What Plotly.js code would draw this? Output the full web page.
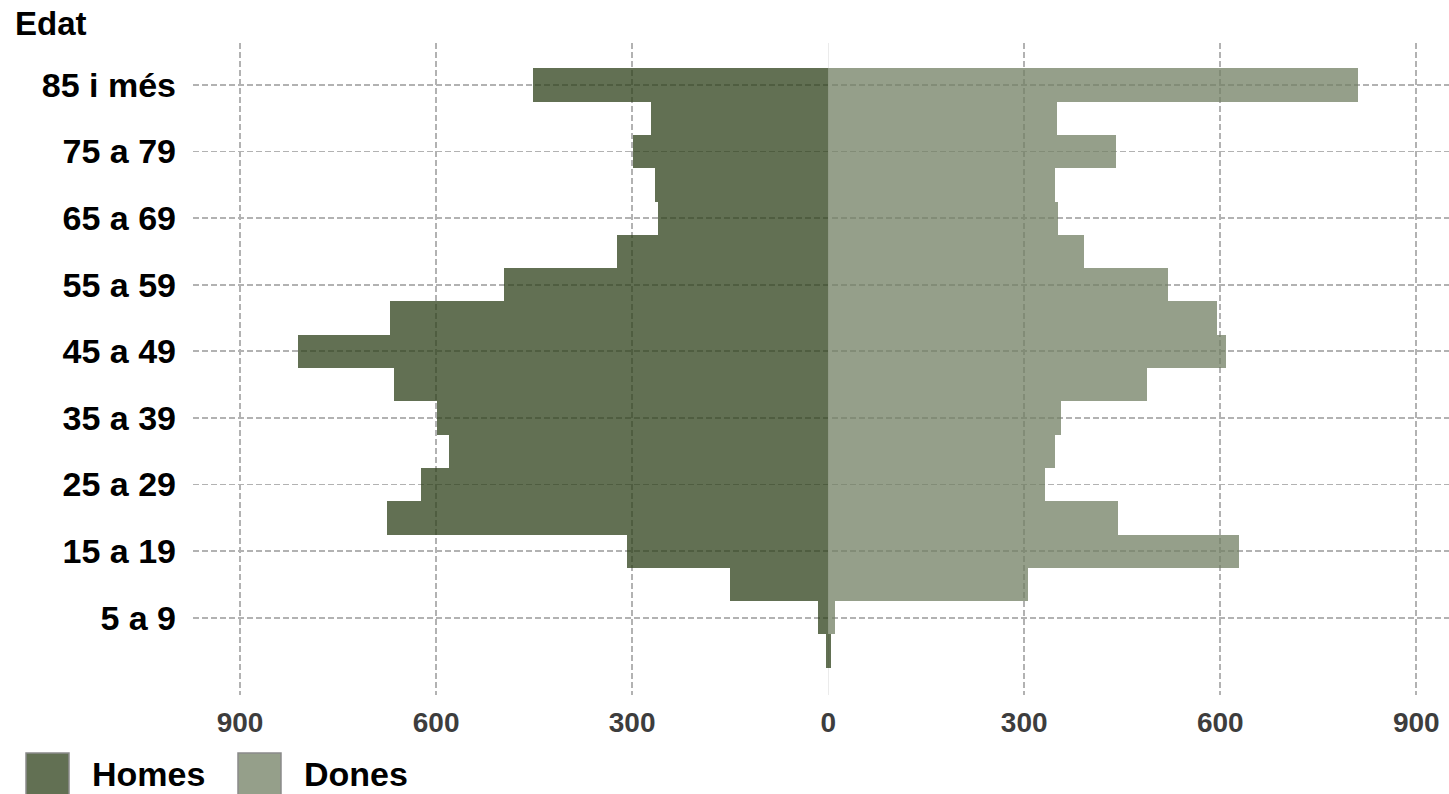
<!DOCTYPE html>
<html>
<head>
<meta charset="utf-8">
<script src="https://cdn.plot.ly/plotly-3.0.1.min.js"></script>
<style>html,body{margin:0;padding:0;background:#fff;}#chart{width:1449px;height:794px;}</style>
</head>
<body>
<div id="chart"></div>
<script>
// Age groups (bottom to top)
const ageGroups = ["0 a 4","5 a 9","10 a 14","15 a 19","20 a 24","25 a 29","30 a 34","35 a 39","40 a 44","45 a 49","50 a 54","55 a 59","60 a 64","65 a 69","70 a 74","75 a 79","80 a 84","85 i més"];
// Men (Homes) and Women (Dones) counts
const homes = [4, 15, 151, 308, 675, 623, 580, 598, 664, 812, 671, 496, 323, 260, 265, 299, 271, 451];
const dones = [4, 11, 306, 628, 444, 332, 347, 357, 488, 608, 595, 520, 392, 352, 347, 441, 350, 811];
// Labelled age ticks
const yTickLabels = ["5 a 9","15 a 19","25 a 29","35 a 39","45 a 49","55 a 59","65 a 69","75 a 79","85 i més"];
const xTickVals = [-900, -600, -300, 0, 300, 600, 900];
const xTickText = ["900","600","300","0","300","600","900"];
const seriesNames = ["Homes", "Dones"];

const colHomes = "rgba(46,64,26,0.75)";
const colDones = "rgba(114,127,99,0.75)";
const FONT = "Liberation Sans, Arial, Helvetica, sans-serif";

const donesColors = dones.map((v, i) => i === 0 ? colHomes : colDones);

const traces = [
  {
    type: "bar", orientation: "h", name: seriesNames[0],
    y: ageGroups, x: homes.map(v => -v),
    marker: {color: colHomes, line: {width: 0}},
    showlegend: false, hoverinfo: "skip"
  },
  {
    type: "bar", orientation: "h", name: seriesNames[1],
    y: ageGroups, x: dones,
    marker: {color: donesColors, line: {width: 0}},
    showlegend: false, hoverinfo: "skip"
  }
];

// pixel helpers for legend placement (plot area: x 193..1449, y 43..695)
const L = 193, R = 1449, T = 43, B = 695;
const px = X => (X - L) / (R - L);
const py = Y => (B - Y) / (B - T);

const layout = {
  width: 1449, height: 794,
  margin: {l: L, r: 1449 - R, t: T, b: 794 - B, pad: 0},
  paper_bgcolor: "#ffffff", plot_bgcolor: "#ffffff",
  barmode: "overlay", bargap: 0,
  font: {family: FONT, color: "#000"},
  title: {
    text: "Edat", xref: "container", yref: "container",
    x: 15 / 1449, xanchor: "left", y: 1 - 23 / 794, yanchor: "middle",
    font: {family: FONT, size: 33, weight: "bold", color: "#000"}
  },
  xaxis: {
    range: [-972, 950],
    tickmode: "array", tickvals: xTickVals, ticktext: xTickText,
    showgrid: false,
    minor: {tickmode: "array", tickvals: [-900, -600, -300, 300, 600, 900], showgrid: true,
            gridcolor: "#b2b2b2", gridwidth: 1.8, griddash: "6px,3px", ticks: ""},
    zeroline: true, zerolinecolor: "#ebebeb", zerolinewidth: 1,
    showline: false, ticks: "", ticklabelstandoff: 8,
    tickfont: {family: FONT, size: 28, weight: "bold", color: "#3d3d3d"},
    fixedrange: true
  },
  yaxis: {
    type: "category", categoryorder: "array", categoryarray: ageGroups,
    range: [-1.32, 18.26],
    tickmode: "array", tickvals: yTickLabels,
    showgrid: true, gridcolor: "#b2b2b2", gridwidth: 1.8, griddash: "6px,3px",
    zeroline: false, showline: false, ticks: "", ticklabelstandoff: 16,
    tickfont: {family: FONT, size: 34, weight: "bold", color: "#000"},
    fixedrange: true
  },
  shapes: [
    {type: "rect", xref: "paper", yref: "paper", x0: px(26), x1: px(69), y0: py(797), y1: py(753),
     fillcolor: colHomes, line: {color: "#8a8a8a", width: 1.5}, layer: "above"},
    {type: "rect", xref: "paper", yref: "paper", x0: px(238), x1: px(281), y0: py(797), y1: py(753),
     fillcolor: colDones, line: {color: "#8a8a8a", width: 1.5}, layer: "above"}
  ],
  annotations: [
    {text: seriesNames[0], xref: "paper", yref: "paper", x: px(90), y: py(774), xanchor: "left", yanchor: "middle",
     showarrow: false, font: {family: FONT, size: 34, weight: "bold", color: "#000"}},
    {text: seriesNames[1], xref: "paper", yref: "paper", x: px(302), y: py(774), xanchor: "left", yanchor: "middle",
     showarrow: false, font: {family: FONT, size: 34, weight: "bold", color: "#000"}}
  ]
};

Plotly.newPlot("chart", traces, layout, {displayModeBar: false, staticPlot: true});
</script>
</body>
</html>
